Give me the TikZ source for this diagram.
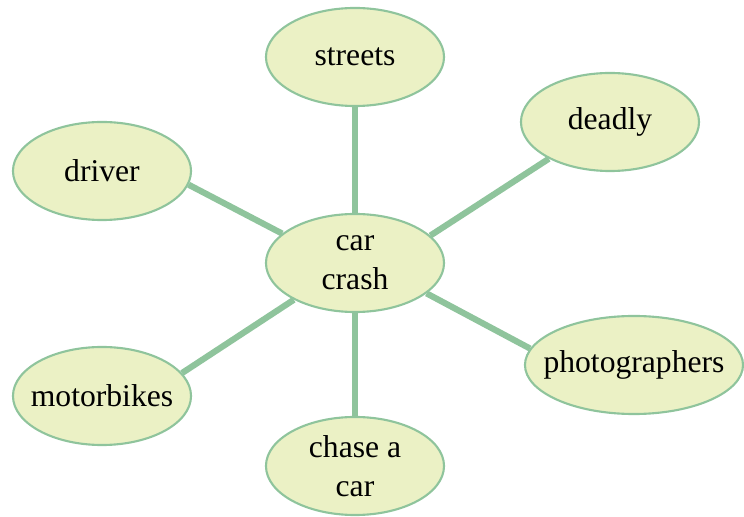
\documentclass[tikz,border=0pt]{standalone}
\usepackage{fontspec}
\setmainfont{Liberation Serif}
\usetikzlibrary{shapes.geometric}
\definecolor{bubblefill}{RGB}{235,241,197}
\definecolor{bubbleline}{RGB}{143,196,156}

\begin{document}
\begin{tikzpicture}[x=0.025cm, y=-0.025cm,
    bubble/.style={ellipse, draw=bubbleline, fill=bubblefill, line width=1.5pt,
        minimum width=4.45cm, minimum height=2.45cm, inner xsep=-0.5cm, inner ysep=0pt,
        align=center, font=\fontsize{22.5}{28}\selectfont},
    spoke/.style={bubbleline, line width=4.4pt}]
    \useasboundingbox (0,0) rectangle (744,517);
    % Centre word
    \node[bubble] (crash) at (355,263) {car\\crash};
    % Words round it
    \node[bubble] (streets) at (355,57) {streets};
    \node[bubble] (deadly) at (610,122) {deadly};
    \node[bubble] (driver) at (102,171) {driver};
    \node[bubble, minimum width=5.45cm] (photo) at (634,365) {photographers};
    \node[bubble] (motor) at (102,396) {motorbikes};
    \node[bubble] (chase) at (355,466) {chase a\\car};
    % Spokes
    \draw[spoke] (crash.90) -- (streets.270);
    \draw[spoke] (crash.20) -- (deadly.211);
    \draw[spoke] (crash.158) -- (driver.-9);
    \draw[spoke] (crash.-23) -- (photo.171);
    \draw[spoke] (crash.211) -- (motor.16);
    \draw[spoke] (crash.270) -- (chase.90);
\end{tikzpicture}
\end{document}
